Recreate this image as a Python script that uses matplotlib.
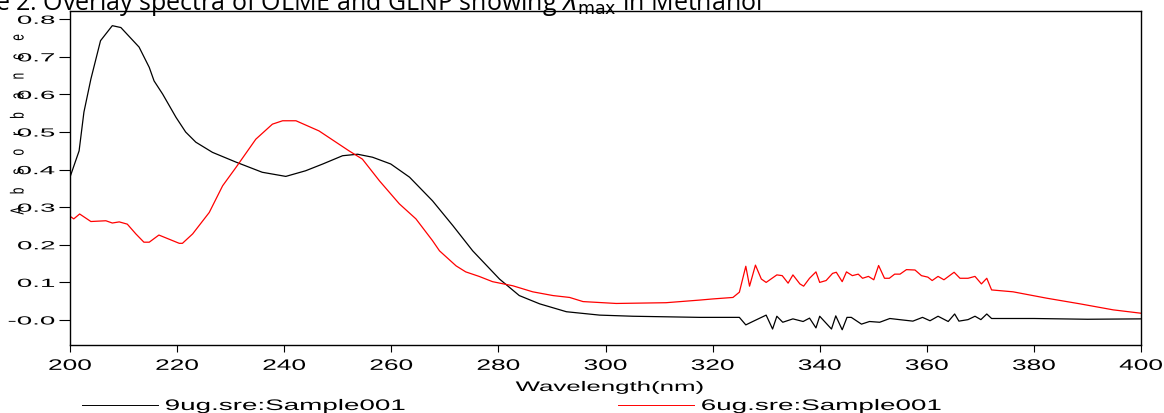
import numpy as np
import matplotlib
matplotlib.use("Agg")
import matplotlib.pyplot as plt
from matplotlib.patheffects import AbstractPathEffect
from matplotlib.transforms import Affine2D

# 9ug.sre:Sample001 (black)
wl_9ug = [200, 201.7, 202.6, 203.9, 205.7, 207.9, 209.5, 212.9, 214.8, 215.7, 217.3,
          219.8, 221.6, 223.5, 226.6, 231, 235.9, 240.3, 244, 247.2, 250.9, 253.7,
          256.5, 259.9, 263.4, 267.7, 271.5, 275.2, 280.2, 283.9, 287.7, 292.7, 298.9,
          305.1, 317.6, 325, 326.2, 327.5, 330, 331.2, 332, 333.1, 335, 336.9, 338.1,
          339.3, 340, 342.2, 343, 344.2, 345.1, 345.9, 347.8, 349.3, 351.2, 353.1,
          354.9, 357.4, 359.2, 360.6, 362.1, 364, 365.2, 366, 367.7, 369, 370.1, 371.2,
          372.1, 380, 390, 400]
abs_9ug = [0.38, 0.45, 0.553, 0.641, 0.743, 0.783, 0.778, 0.726, 0.672, 0.636, 0.601,
           0.539, 0.5, 0.473, 0.446, 0.42, 0.393, 0.382, 0.397, 0.415, 0.437, 0.441,
           0.433, 0.415, 0.38, 0.317, 0.251, 0.184, 0.109, 0.065, 0.043, 0.022, 0.013,
           0.01, 0.007, 0.007, -0.013, -0.004, 0.013, -0.024, 0.01, -0.006, 0.003, -0.004,
           0.005, -0.021, 0.01, -0.024, 0.011, -0.026, 0.007, 0.007, -0.011, -0.004,
           -0.006, 0.004, 0.001, -0.003, 0.007, -0.002, 0.01, -0.004, 0.016, -0.003,
           0.001, 0.01, 0.001, 0.016, 0.004, 0.004, 0.002, 0.003]

# 6ug.sre:Sample001 (red)
wl_6ug = [200, 200.7, 201.8, 203.9, 206.7, 207.9, 209.2, 210.7, 212.3, 213.8, 214.8,
          216.6, 218.5, 220.4, 221, 222.9, 226, 228.5, 231, 234.7, 237.8, 239.7, 242.2,
          246.5, 252.1, 254.6, 257.8, 261.5, 264.6, 267.7, 269, 272.1, 273.9, 276.4,
          278.9, 282.7, 286.4, 290.2, 293.3, 295.8, 302, 311.3, 317.6, 320, 323.8, 325,
          326.2, 326.9, 328, 329.1, 330, 332, 333, 334.1, 335, 336.3, 337, 338.1, 339.3,
          340, 341.2, 342.4, 343.1, 344.2, 345, 346.1, 347.2, 348, 349.1, 350.1, 351,
          352.1, 353, 354, 355, 356.2, 357.8, 359, 360.2, 361, 362.1, 363.2, 365.1,
          366.2, 367.7, 369, 370.2, 371.2, 372.1, 376.1, 382.4, 388.6, 394.8, 400]
abs_6ug = [0.276, 0.269, 0.282, 0.262, 0.264, 0.258, 0.261, 0.255, 0.229, 0.207, 0.207,
           0.226, 0.215, 0.204, 0.204, 0.229, 0.286, 0.357, 0.406, 0.481, 0.521, 0.53,
           0.53, 0.503, 0.45, 0.428, 0.37, 0.309, 0.269, 0.211, 0.184, 0.144, 0.128,
           0.116, 0.102, 0.091, 0.075, 0.065, 0.06, 0.049, 0.044, 0.046, 0.053, 0.056,
           0.06, 0.074, 0.143, 0.09, 0.146, 0.109, 0.1, 0.12, 0.118, 0.098, 0.12, 0.096,
           0.09, 0.111, 0.128, 0.1, 0.105, 0.124, 0.127, 0.102, 0.128, 0.118, 0.122,
           0.111, 0.116, 0.107, 0.145, 0.111, 0.111, 0.122, 0.122, 0.134, 0.133, 0.118,
           0.114, 0.105, 0.116, 0.107, 0.127, 0.111, 0.111, 0.116, 0.096, 0.111, 0.08,
           0.075, 0.058, 0.043, 0.027, 0.018]

x_ticks = [200, 220, 240, 260, 280, 300, 320, 340, 360, 380, 400]
y_ticks = [0.0, 0.1, 0.2, 0.3, 0.4, 0.5, 0.6, 0.7, 0.8]
y_tick_labels = ["-0.0", "0.1", "0.2", "0.3", "0.4", "0.5", "0.6", "0.7", "0.8"]


class HStretch(AbstractPathEffect):
    # the chart in the source was pasted stretched sideways, so widen the glyphs
    def __init__(self, sx, anchor="center"):
        super().__init__()
        self.sx = sx
        self.anchor = anchor

    def draw_path(self, renderer, gc, tpath, affine, rgbFace=None):
        ext = tpath.get_extents(affine)
        if self.anchor == "left":
            x0 = ext.x0
        elif self.anchor == "right":
            x0 = ext.x1
        else:
            x0 = (ext.x0 + ext.x1) / 2
        t = affine + Affine2D().translate(-x0, 0).scale(self.sx, 1).translate(x0, 0)
        renderer.draw_path(gc, tpath, t, rgbFace)


plt.rcParams["font.family"] = ["Liberation Sans", "DejaVu Sans"]

fig = plt.figure(figsize=(11.64, 4.14), dpi=100)
ax = fig.add_axes([70 / 1164, 1 - 346 / 414, 1071 / 1164, 334 / 414])

ax.plot(wl_9ug, abs_9ug, color="black", lw=0.9, label="9ug.sre:Sample001")
ax.plot(wl_6ug, abs_6ug, color="red", lw=0.9, label="6ug.sre:Sample001")

ax.set_xlim(200, 400)
ax.set_ylim(-0.0665, 0.822)
ax.set_xticks(x_ticks)
ax.set_yticks(y_ticks)
ax.set_yticklabels(y_tick_labels)
ax.tick_params(axis="x", labelsize=11, length=5, width=0.8, direction="out", pad=5)
ax.tick_params(axis="y", labelsize=8.5, length=8, width=0.8, direction="out", pad=3)
for lab in ax.get_xticklabels():
    lab.set_path_effects([HStretch(1.72, "center")])
for lab in ax.get_yticklabels():
    lab.set_path_effects([HStretch(2.35, "right")])
for s in ax.spines.values():
    s.set_linewidth(1.0)

ax.set_xlabel("Wavelength(nm)", fontsize=10, va="baseline",
              path_effects=[HStretch(1.86, "center")])
ax.xaxis.set_label_coords(0.504, -(392 - 346) / 334)

fig.text(18 / 1164, 1 - 126 / 414, "    ".join("Absorbance"), rotation=90,
         fontsize=8.5, ha="center", va="center", path_effects=[HStretch(1.6, "center")])

fig.text(-0.004, 1 - 10 / 414,
         r"e 2: Overlay spectra of OLME and GLNP showing $\lambda_{\mathrm{max}}$ in Methanol",
         fontsize=18, family=["Open Sans", "DejaVu Sans"], ha="left", va="baseline")

leg = fig.legend(loc="center left", bbox_to_anchor=(82 / 1164, 1 - 407 / 414), ncol=2,
                 frameon=False, fontsize=11, handlelength=5.0, handletextpad=0.45,
                 columnspacing=21.0, borderaxespad=0, borderpad=0)
for line in leg.get_lines():
    line.set_linewidth(0.7)
for txt in leg.get_texts():
    txt.set_path_effects([HStretch(1.82, "left")])

fig.savefig("out.png", dpi=100)
